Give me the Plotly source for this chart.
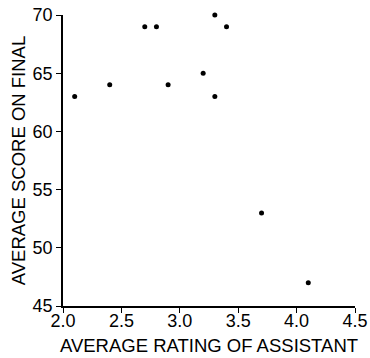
import plotly.graph_objects as go

rating = [2.1, 2.4, 2.7, 2.8, 2.9, 3.2, 3.3, 3.3, 3.4, 3.7, 4.1]
score = [63, 64, 69, 69, 64, 65, 70, 63, 69, 53, 47]
x_ticks = [2.0, 2.5, 3.0, 3.5, 4.0, 4.5]
x_labels = ["2.0", "2.5", "3.0", "3.5", "4.0", "4.5"]
y_ticks = [45, 50, 55, 60, 65, 70]

FONT = "Liberation Sans, Arial"

fig = go.Figure(go.Scatter(x=rating, y=score, mode="markers", cliponaxis=False,
                           marker=dict(color="black", size=5)))

axis_common = dict(showline=True, linecolor="black", linewidth=1.5,
                   ticks="outside", ticklen=5, tickcolor="black",
                   showgrid=False, zeroline=False, automargin=False,
                   tickfont=dict(family=FONT, size=18, color="black"))

fig.update_xaxes(range=[2.0, 4.5], tickvals=x_ticks, ticktext=x_labels,
                 ticklabelstandoff=-7,
                 title=dict(text="AVERAGE RATING OF ASSISTANT", standoff=9,
                            font=dict(family=FONT, size=18.5, color="black")),
                 **axis_common)
fig.update_yaxes(range=[45, 70], tickvals=y_ticks,
                 title=dict(text="AVERAGE SCORE ON FINAL", standoff=2,
                            font=dict(family=FONT, size=18.5, color="black")),
                 **axis_common)

fig.update_layout(width=370, height=358, margin=dict(l=63, r=15, t=15, b=52),
                  plot_bgcolor="white", paper_bgcolor="white", showlegend=False)

fig.write_html("out.html")
